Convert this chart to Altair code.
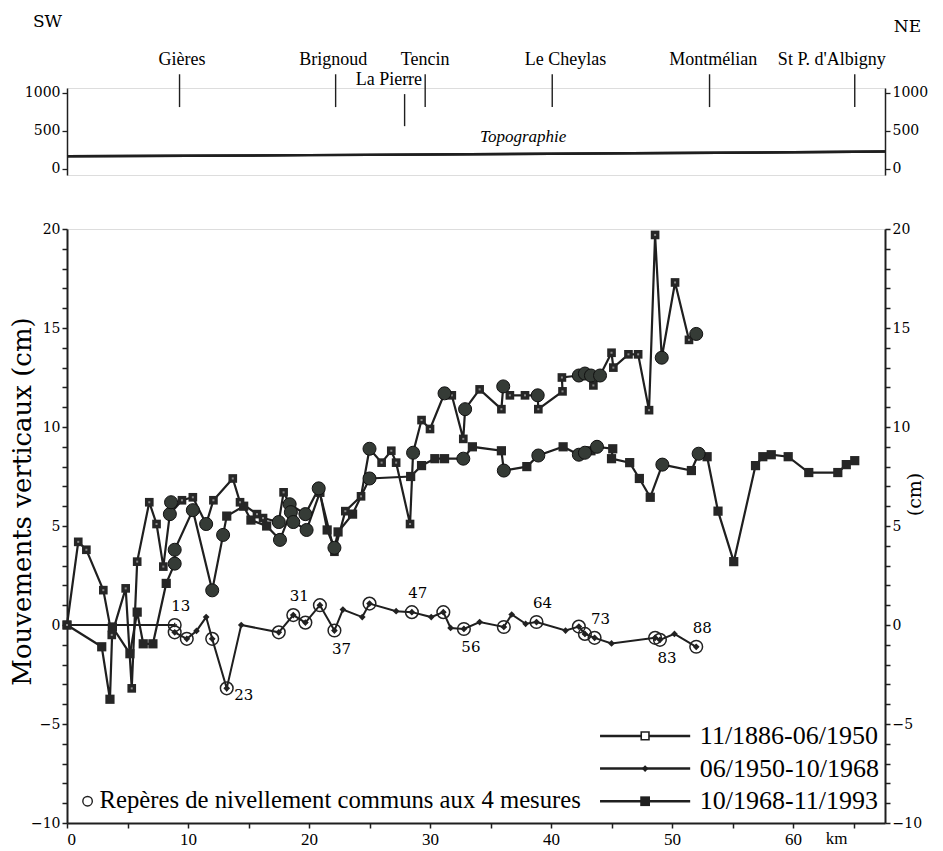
import altair as alt
import pandas as pd

# ---------------- data ----------------
# 11/1886-06/1950 (upper series)
s1_km = [0, 0.93, 1.6, 3.0, 3.7, 4.85, 5.35, 5.8, 6.8, 7.4, 7.96, 8.5, 9.5, 10.4, 11.5, 12.1,
         13.7, 14.3, 15.7, 16.2, 17.5, 17.9, 18.4, 19.7, 20.8, 22.1, 23.0, 24.3, 25.0, 26.0,
         26.8, 27.2, 28.35, 28.6, 29.3, 30.0, 31.2, 31.8, 32.75, 32.9, 34.1, 35.9, 36.05, 36.6,
         37.85, 38.9, 38.95, 40.95, 40.9, 42.3, 42.8, 43.3, 43.5, 44.05, 45.0, 45.15, 46.4,
         47.2, 48.1, 48.6, 49.15, 50.25, 51.4, 52.0]
s1_cm = [0, 4.2, 3.8, 1.76, -0.5, 1.85, -3.2, 3.2, 6.2, 5.1, 2.95, 5.6, 6.3, 6.45, 5.1, 6.3,
         7.4, 6.2, 5.6, 5.4, 5.2, 6.7, 6.1, 5.6, 6.9, 3.7, 5.75, 6.5, 8.9, 8.2,
         8.8, 8.2, 5.1, 8.7, 10.35, 9.9, 11.7, 11.6, 9.4, 10.9, 11.9, 10.9, 12.05, 11.6,
         11.6, 11.6, 10.9, 11.8, 12.5, 12.6, 12.7, 12.6, 12.1, 12.6, 13.75, 13.0, 13.67,
         13.67, 10.85, 19.7, 13.5, 17.3, 14.4, 14.7]

# 06/1950-10/1968 (diamonds, near zero)
s2_km = [8.9, 9.9, 10.7, 11.5, 12.0, 13.2, 14.4, 17.5, 18.7, 19.7, 20.9, 22.1, 22.8, 24.4,
         25.0, 27.2, 28.5, 30.1, 31.1, 31.7, 32.8, 34.1, 36.1, 36.75, 37.9, 38.8, 41.2, 42.3,
         42.8, 43.6, 45.0, 48.6, 49.0, 50.2, 52.0]
s2_cm = [-0.37, -0.7, -0.3, 0.4, -0.7, -3.2, 0.0, -0.37, 0.5, 0.12, 1.0, -0.28, 0.78, 0.4,
         1.08, 0.7, 0.65, 0.4, 0.65, -0.15, -0.2, 0.15, -0.1, 0.53, 0.06, 0.15, -0.28, -0.08,
         -0.45, -0.65, -0.93, -0.65, -0.75, -0.45, -1.1]

# 10/1968-11/1993 (filled squares)
s3_km = [0, 2.87, 3.55, 3.75, 5.2, 5.8, 6.3, 7.1, 8.2, 8.9, 8.9, 10.4, 12.0, 12.9, 13.2, 14.6,
         15.2, 16.5, 17.6, 18.5, 18.7, 19.8, 20.9, 21.5, 22.1, 22.4, 23.6, 25.0, 28.4, 29.3,
         30.4, 31.2, 32.75, 33.5, 35.9, 36.1, 38.0, 38.95, 41.0, 42.3, 42.8, 43.3, 43.8, 45.1,
         45.0, 46.5, 47.3, 48.2, 49.2, 51.6, 52.2, 52.9, 53.8, 55.1, 56.9, 57.5, 58.2, 59.6,
         61.3, 63.7, 64.4, 65.1]
s3_cm = [0, -1.1, -3.75, -0.1, -1.45, 0.65, -0.95, -0.95, 2.1, 3.1, 3.8, 5.8, 1.75, 4.55, 5.5, 6.0,
         5.3, 5.0, 4.3, 5.7, 5.2, 4.8, 6.7, 4.8, 3.9, 4.7, 5.6, 7.4, 7.5, 8.05,
         8.4, 8.4, 8.4, 9.0, 8.8, 7.8, 8.0, 8.56, 9.0, 8.6, 8.7, 8.8, 9.0, 8.9,
         8.4, 8.2, 7.4, 6.45, 8.1, 7.8, 8.65, 8.5, 5.75, 3.2, 8.05, 8.5, 8.6, 8.5,
         7.7, 7.7, 8.1, 8.3]

# reference segment 0 -> repere 13
ref_km = [0, 8.9]
ref_cm = [0, 0]

# common levelling benchmarks on the two upper series
up_bench_km = [8.5, 8.6, 8.9, 8.9, 10.4, 11.5, 12.0, 12.9, 17.5, 17.6, 18.4, 18.5, 18.7, 19.7,
               19.8, 20.8, 22.1, 25.0, 25.0, 28.6, 31.2, 32.75, 32.9, 36.05, 36.1, 38.9, 38.95,
               42.3, 42.8, 43.3, 42.3, 42.8, 43.8, 44.05, 49.15, 49.2, 52.0, 52.2]
up_bench_cm = [5.6, 6.2, 3.8, 3.1, 5.8, 5.1, 1.75, 4.55, 5.2, 4.3, 6.1, 5.7, 5.2, 5.6,
               4.8, 6.9, 3.9, 8.9, 7.4, 8.7, 11.7, 8.4, 10.9, 12.05, 7.8, 11.6, 8.56,
               12.6, 12.7, 12.6, 8.6, 8.7, 9.0, 12.6, 13.5, 8.1, 14.7, 8.65]

# benchmarks on the 1950-1968 series
lo_bench_km = [8.9, 8.9, 9.9, 12.0, 13.2, 17.5, 18.7, 19.7, 20.9, 22.1, 25.0, 28.5, 31.1, 32.8,
               36.1, 38.8, 42.3, 42.8, 43.6, 48.6, 49.0, 52.0]
lo_bench_cm = [0.0, -0.37, -0.7, -0.7, -3.2, -0.37, 0.5, 0.12, 1.0, -0.28, 1.08, 0.65, 0.65, -0.2,
               -0.1, 0.15, -0.08, -0.45, -0.65, -0.65, -0.75, -1.1]

# benchmark numbers
lab_txt = ["13", "31", "47", "64", "73", "88", "37", "56", "83", "23"]
lab_km = [8.9, 18.7, 28.5, 38.8, 43.6, 52.0, 22.1, 32.8, 49.0, 13.2]
lab_cm = [0.0, 0.5, 0.65, 0.15, -0.65, -1.1, -0.28, -0.2, -0.75, -3.2]
lab_side = ["above", "above", "above", "above", "above", "above", "below", "below", "below", "right"]

# topography
topo_km = [0, 10, 20, 30, 40, 50, 60, 67.6]
topo_m = [165, 172, 180, 189, 198, 208, 218, 228]

stations = ["Gières", "Brignoud", "La Pierre", "Tencin", "Le Cheylas", "Montmélian", "St P. d'Albigny"]
station_km = [9.3, 22.2, 27.9, 29.6, 40.1, 53.1, 65.1]
station_top = [1240, 1240, 980, 1240, 1240, 1240, 1240]
station_bot = [810, 810, 560, 810, 810, 810, 810]

legend_names = ["11/1886-06/1950", "06/1950-10/1968", "10/1968-11/1993"]

# ---------------- styling / layout constants ----------------
W = 818
H_MAIN = 594
H_TOP = 87
XMAX = 67.6
INK = "#1f1f1f"
SERIF = "DejaVu Serif"
TIMES = "Liberation Serif"

xsc = alt.Scale(domain=[0, XMAX], nice=False, zero=False)
ysc = alt.Scale(domain=[-10, 20], nice=False, zero=False)
tsc = alt.Scale(domain=[-80, 1060], nice=False, zero=False)

x_axis = alt.Axis(values=list(range(0, 66, 5)),
                  labelExpr="datum.value % 10 == 0 ? datum.label : ''",
                  title=None, grid=False, domainColor=INK, domainWidth=2,
                  tickColor=INK, tickWidth=1.5, tickSize=5,
                  labelFont=TIMES, labelFontSize=17, labelColor="black", labelPadding=3)


def df(k, v):
    d = pd.DataFrame({"km": k, "cm": v})
    d["i"] = range(len(d))
    return d


def X():
    return alt.X("km:Q", scale=xsc, axis=x_axis)


def Y(axis=None):
    return alt.Y("cm:Q", scale=ysc, axis=axis)


yvals = list(range(-10, 21))
left_axis = alt.Axis(values=yvals, labelExpr="datum.value % 5 == 0 ? datum.label : ''",
                     title="Mouvements verticaux (cm)", titleFont=SERIF, titleFontSize=26,
                     titleFontWeight="normal", titleColor="black", titleX=-45, titleY=272,
                     titleBaseline="middle", titleAlign="center", titleAngle=270,
                     grid=False, domainColor=INK, domainWidth=2, tickColor=INK, tickWidth=1.5,
                     tickSize=5, labelFont=SERIF, labelFontSize=14, labelColor="black",
                     labelPadding=2, orient="left")
right_axis = alt.Axis(values=yvals, labelExpr="datum.value % 5 == 0 ? datum.label : ''",
                      title="(cm)", titleFont=SERIF, titleFontSize=19, titleFontWeight="normal",
                      titleColor="black", titleAngle=270, titleY=265, titlePadding=3,
                      grid=False, domainColor=INK, domainWidth=2, tickColor=INK, tickWidth=1.5,
                      tickSize=5, labelFont=SERIF, labelFontSize=14, labelColor="black",
                      labelPadding=2, orient="right")

d1 = df(s1_km, s1_cm)
d2 = df(s2_km, s2_cm)
d3 = df(s3_km, s3_cm)
dref = df(ref_km, ref_cm)
dub = df(up_bench_km, up_bench_cm)
dlb = df(lo_bench_km, lo_bench_cm)
dlab = pd.DataFrame({"km": lab_km, "cm": lab_cm, "t": lab_txt, "side": lab_side})

line3 = alt.Chart(d3).mark_line(color=INK, strokeWidth=2.2).encode(
    x=X(), y=Y(left_axis), order="i:Q")
line1 = alt.Chart(d1).mark_line(color=INK, strokeWidth=2.2).encode(
    x=X(), y=Y(right_axis), order="i:Q")
line2 = alt.Chart(d2).mark_line(color=INK, strokeWidth=2).encode(x=X(), y=Y(), order="i:Q")
lineref = alt.Chart(dref).mark_line(color=INK, strokeWidth=2).encode(x=X(), y=Y(), order="i:Q")

sq3 = alt.Chart(d3).mark_point(shape="square", filled=True, color="#262626", size=85, opacity=1).encode(x=X(), y=Y())
sq1 = alt.Chart(d1).mark_point(shape="square", filled=True, color="#262626", size=75, opacity=1).encode(x=X(), y=Y())
sq1c = alt.Chart(d1).mark_point(shape="square", filled=True, color="#8a8a8a", size=4, opacity=1).encode(x=X(), y=Y())
dia2 = alt.Chart(d2).mark_point(shape="diamond", filled=True, color="#222222", size=45, opacity=1).encode(x=X(), y=Y())
ub = alt.Chart(dub).mark_point(shape="circle", filled=True, fill="#353b36", stroke="#111111",
                               strokeWidth=1, size=170, opacity=1, fillOpacity=1).encode(x=X(), y=Y())
lb = alt.Chart(dlb).mark_point(shape="circle", filled=False, stroke="#222222", strokeWidth=1.5,
                               size=160, opacity=1).encode(x=X(), y=Y())
lbx = alt.Chart(dlb).mark_point(shape="M-0.5,0L0.5,0M0,-0.5L0,0.5", filled=False, stroke="#222222",
                                strokeWidth=1.3, size=90, opacity=1).encode(x=X(), y=Y())

lab_font = dict(font=SERIF, fontSize=15, color="black")
lab_above = alt.Chart(dlab).transform_filter("datum.side == 'above'").mark_text(
    dx=6, dy=-19, **lab_font).encode(x=X(), y=Y(), text="t:N")
lab_below = alt.Chart(dlab).transform_filter("datum.side == 'below'").mark_text(
    dx=7, dy=18, **lab_font).encode(x=X(), y=Y(), text="t:N")
lab_right = alt.Chart(dlab).transform_filter("datum.side == 'right'").mark_text(
    dx=17, dy=7, **lab_font).encode(x=X(), y=Y(), text="t:N")

# km unit label beside the last tick label
dkm = pd.DataFrame({"km": [63.6], "cm": [-10], "t": ["km"]})
km_lab = alt.Chart(dkm).mark_text(font=TIMES, fontSize=17, color="black", dy=16, align="center",
                                  baseline="middle").encode(x=X(), y=Y(), text="t:N")

# ---------------- manual legend ----------------
LEG_X0, LEG_X1, LEG_TXT = 44.05, 51.5, 52.3
LEG_Y = [-5.6, -7.25, -8.9]
leg_lines = pd.DataFrame({"km": [LEG_X0] * 3, "km2": [LEG_X1] * 3, "cm": LEG_Y, "t": legend_names})
leg_mid = pd.DataFrame({"km": [(LEG_X0 + LEG_X1) / 2] * 3, "cm": LEG_Y, "t": legend_names})
leg_rule = alt.Chart(leg_lines).mark_rule(color=INK, strokeWidth=2.5).encode(
    x=X(), x2="km2:Q", y=Y())
leg_s1 = alt.Chart(leg_mid.iloc[[0]]).mark_point(shape="square", filled=True, fill="white",
                                                 stroke=INK, strokeWidth=1.6, size=60, opacity=1).encode(x=X(), y=Y())
leg_s2 = alt.Chart(leg_mid.iloc[[1]]).mark_point(shape="diamond", filled=True, color=INK, size=45,
                                                 opacity=1).encode(x=X(), y=Y())
leg_s3 = alt.Chart(leg_mid.iloc[[2]]).mark_point(shape="square", filled=True, color=INK, size=95,
                                                 opacity=1).encode(x=X(), y=Y())
leg_txt = alt.Chart(pd.DataFrame({"km": [LEG_TXT] * 3, "cm": LEG_Y, "t": legend_names})).mark_text(
    font=TIMES, fontSize=26, color="black", align="left", baseline="middle").encode(
    x=X(), y=Y(), text="t:N")
rep = pd.DataFrame({"km": [1.7], "cm": [-8.9], "t": ["Repères de nivellement communs aux 4 mesures"]})
rep_sym = alt.Chart(rep).mark_point(shape="circle", filled=False, stroke=INK, strokeWidth=1.4,
                                    size=90, opacity=1).encode(x=X(), y=Y())
rep_txt = alt.Chart(rep).mark_text(font=TIMES, fontSize=24.7, color="black", align="left",
                                   baseline="middle", dx=12).encode(x=X(), y=Y(), text="t:N")

main = alt.layer(
    line3, line1, line2, lineref,
    sq3, sq1, sq1c, ub, dia2, lb, lbx,
    lab_above, lab_below, lab_right, km_lab,
    leg_rule, leg_s1, leg_s2, leg_s3, leg_txt, rep_sym, rep_txt,
).resolve_axis(y="independent").properties(width=W, height=H_MAIN)

# ---------------- topography panel ----------------
t_left = alt.Axis(values=[0, 500, 1000], format="d", title="SW", titleAngle=0, titleX=-20,
                  titleY=-67, titleAlign="center", titleBaseline="middle", titleFont=SERIF,
                  titleFontSize=17, titleFontWeight="normal", titleColor="black", grid=False,
                  domainColor=INK, domainWidth=1.5, tickColor=INK, tickWidth=1.3, tickSize=5,
                  labelFont=SERIF, labelFontSize=14, labelColor="black", orient="left")
t_right = alt.Axis(values=[0, 500, 1000], format="d", title="NE", titleAngle=0, titleX=22,
                   titleY=-62, titleAlign="center", titleBaseline="middle", titleFont=SERIF,
                   titleFontSize=17, titleFontWeight="normal", titleColor="black", grid=False,
                   domainColor=INK, domainWidth=1.5, tickColor=INK, tickWidth=1.3, tickSize=5,
                   labelFont=SERIF, labelFontSize=14, labelColor="black", orient="right")

TX = alt.X("km:Q", scale=xsc, axis=None)
dtopo = pd.DataFrame({"km": topo_km, "m": topo_m})
topo1 = alt.Chart(dtopo).mark_line(color=INK, strokeWidth=2.4).encode(
    x=TX, y=alt.Y("m:Q", scale=tsc, axis=t_left))
topo2 = alt.Chart(dtopo).mark_line(color=INK, strokeWidth=2.4).encode(
    x=TX, y=alt.Y("m:Q", scale=tsc, axis=t_right))

label_shift = {"Gières": 0.2, "Brignoud": -0.2, "La Pierre": -1.3, "Tencin": 0.0,
               "Le Cheylas": 1.1, "Montmélian": 0.3, "St P. d'Albigny": -1.9}
dst = pd.DataFrame({"name": stations, "km": station_km, "top": station_top, "bot": station_bot})
dst["lkm"] = [k + label_shift[n] for n, k in zip(stations, station_km)]
st_rule = alt.Chart(dst).mark_rule(color=INK, strokeWidth=1.4).encode(
    x=TX, y=alt.Y("top:Q", scale=tsc, axis=None), y2="bot:Q")
st_text = alt.Chart(dst).mark_text(font=TIMES, fontSize=18, color="black", baseline="alphabetic",
                                   dy=-9).encode(
    x=alt.X("lkm:Q", scale=xsc, axis=None), y=alt.Y("top:Q", scale=tsc, axis=None), text="name:N")
dtp = pd.DataFrame({"km": [37.7], "m": [420], "t": ["Topographie"]})
topo_txt = alt.Chart(dtp).mark_text(font=TIMES, fontSize=17, fontStyle="italic", color="black").encode(
    x=TX, y=alt.Y("m:Q", scale=tsc, axis=None), text="t:N")

top = alt.layer(topo1, topo2, st_rule, st_text, topo_txt).resolve_axis(y="independent").properties(
    width=W, height=H_TOP)

chart = alt.vconcat(top, main, spacing=44).properties(
    padding={"left": 0, "top": 3, "right": 0, "bottom": 0}
).configure_view(stroke=None).configure(background="white")
chart.save("out.html", embed_options={"renderer": "svg", "actions": False})
